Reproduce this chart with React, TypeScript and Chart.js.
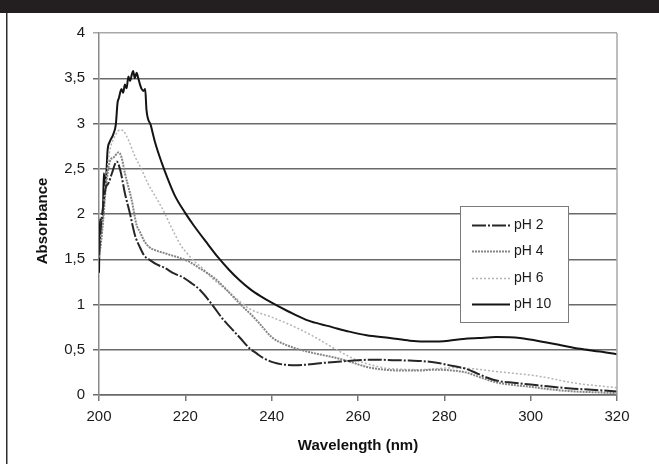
import { useEffect, useRef } from "react";
import { Chart, registerables } from "chart.js";

Chart.register(...registerables);

// ---- Data ----
const xTickValues = [200, 220, 240, 260, 280, 300, 320];
const yTickValues = [0, 0.5, 1, 1.5, 2, 2.5, 3, 3.5, 4];
const seriesNames = ["pH 2", "pH 4", "pH 6", "pH 10"];
const xTitle = "Wavelength (nm)";
const yTitle = "Absorbance";

const nmPH2 = [200, 200.5, 201, 201.5, 202.2, 203, 204.1, 204.9, 206, 207.2, 208.3, 209.5, 210.5, 211.8, 213.5, 215, 217.5, 219.5, 221, 223.4, 226.5, 228.5, 230, 232.7, 235, 236.5, 238, 240.4, 243, 246, 249, 252, 256, 260, 264, 268, 272, 276, 279, 282, 285, 288, 290, 292, 296, 300, 305, 310, 315, 320];
const absPH2 = [1.55, 1.9, 2.1, 2.28, 2.34, 2.45, 2.58, 2.49, 2.23, 2.0, 1.77, 1.63, 1.54, 1.49, 1.44, 1.41, 1.34, 1.3, 1.25, 1.16, 0.98, 0.85, 0.77, 0.63, 0.51, 0.46, 0.41, 0.36, 0.335, 0.33, 0.34, 0.355, 0.37, 0.385, 0.39, 0.385, 0.38, 0.37, 0.35, 0.32, 0.29, 0.23, 0.19, 0.16, 0.135, 0.115, 0.09, 0.07, 0.055, 0.04];

const nmPH4 = [200, 200.5, 201, 201.5, 202, 202.5, 203.5, 204.5, 205.2, 206, 206.8, 207.5, 208.7, 209.5, 210.5, 211.5, 213, 215, 217, 219, 221, 223, 225, 227, 229, 231, 233, 235, 237, 240, 243, 246.6, 250, 254, 258, 262, 266, 270, 274, 278, 282, 285, 288, 292, 296, 300, 305, 310, 315, 320];
const absPH4 = [1.52, 1.7, 1.95, 2.25, 2.45, 2.58, 2.63, 2.68, 2.63, 2.45, 2.3, 2.17, 1.88, 1.8, 1.7, 1.64, 1.6, 1.57, 1.54, 1.51, 1.47, 1.41, 1.35, 1.28, 1.19, 1.09, 0.99, 0.9, 0.8, 0.64, 0.56, 0.5, 0.46, 0.42, 0.37, 0.31, 0.28, 0.27, 0.27, 0.28, 0.27, 0.25, 0.2, 0.14, 0.11, 0.09, 0.06, 0.04, 0.03, 0.02];

const nmPH6 = [200, 200.5, 201, 201.8, 202.5, 203.7, 204.9, 205.6, 206.8, 208.3, 209.9, 211.4, 213, 215, 217, 219, 220.5, 222, 224, 226, 228, 230, 232.7, 235, 240, 245, 250, 255, 260, 266, 270, 274, 278, 282, 286.7, 292, 296, 300, 304, 308, 312, 316, 320];
const absPH6 = [1.57, 1.75, 2.05, 2.45, 2.7, 2.86, 2.93, 2.92, 2.82, 2.64, 2.49, 2.33, 2.2, 2.03, 1.83, 1.65, 1.56, 1.48, 1.4, 1.3, 1.22, 1.14, 1.03, 0.95, 0.86, 0.76, 0.64, 0.5, 0.38, 0.3, 0.285, 0.28, 0.29, 0.3, 0.29, 0.26, 0.24, 0.22, 0.19, 0.15, 0.12, 0.1, 0.08];

const nmPH10 = [200, 200.2, 200.9, 201.1, 201.5, 202, 202.5, 203.3, 203.9, 204.3, 204.6, 205.2, 205.6, 206, 206.4, 206.8, 207.2, 207.6, 207.9, 208.3, 208.7, 209.1, 209.5, 209.9, 210.3, 210.7, 211, 212, 213, 214.5, 216, 217.6, 220, 222, 225, 227.6, 230, 232.5, 235, 237.5, 240, 244, 248, 250, 254, 258, 262, 267.4, 272, 277, 281, 284.4, 288, 292, 297.5, 303.7, 307, 311.4, 316, 320];
const absPH10 = [1.35, 1.94, 1.94, 2.45, 2.31, 2.71, 2.8, 2.88, 2.99, 3.23, 3.28, 3.38, 3.34, 3.43, 3.39, 3.52, 3.47, 3.54, 3.58, 3.5, 3.56, 3.5, 3.43, 3.38, 3.36, 3.38, 3.15, 2.98, 2.79, 2.57, 2.38, 2.2, 2.01, 1.87, 1.68, 1.52, 1.39, 1.27, 1.17, 1.09, 1.02, 0.92, 0.83, 0.8, 0.75, 0.7, 0.66, 0.63, 0.6, 0.59, 0.6, 0.62, 0.63, 0.64, 0.63, 0.58, 0.55, 0.51, 0.48, 0.45];

// ---- Styles ----
const lineColors = ["#262626", "#858585", "#b4b4b4", "#141414"];
const lineWidths = [2, 2, 1.5, 2];
const lineDashes: number[][] = [[14, 2, 2, 2], [2, 1], [2, 2], []];
const FONT = "'Liberation Sans', Arial, sans-serif";

function toPoints(xs: number[], ys: number[]) {
  return xs.map((x, i) => ({ x, y: ys[i] }));
}

const framePlugin = {
  id: "frame",
  afterDraw(chart: any) {
    const { ctx, chartArea } = chart;
    ctx.save();
    // right border of plot area
    ctx.strokeStyle = "#a8a8a8";
    ctx.lineWidth = 1.5;
    ctx.beginPath();
    ctx.moveTo(chartArea.right, chartArea.top);
    ctx.lineTo(chartArea.right, chartArea.bottom);
    ctx.stroke();

    // y axis title
    ctx.save();
    ctx.translate(43, 221);
    ctx.rotate(-Math.PI / 2);
    ctx.font = "bold 15px " + FONT;
    ctx.fillStyle = "#111111";
    ctx.textAlign = "center";
    ctx.textBaseline = "middle";
    ctx.fillText(yTitle, 0, 0);
    ctx.restore();

    // legend box
    const lx = 460, ly = 206, lw = 108, lh = 116;
    ctx.fillStyle = "#ffffff";
    ctx.fillRect(lx, ly, lw, lh);
    ctx.strokeStyle = "#7a7a7a";
    ctx.lineWidth = 1;
    ctx.strokeRect(lx + 0.5, ly + 0.5, lw, lh);
    const rowYs = [224.5, 251, 277.5, 304];
    ctx.font = "14px " + FONT;
    ctx.textBaseline = "middle";
    ctx.textAlign = "left";
    seriesNames.forEach((name, i) => {
      const y = Math.round(rowYs[i]) + 0.5;
      ctx.save();
      ctx.strokeStyle = lineColors[i];
      ctx.lineWidth = lineWidths[i];
      ctx.setLineDash(lineDashes[i]);
      ctx.beginPath();
      ctx.moveTo(472, y);
      ctx.lineTo(510, y);
      ctx.stroke();
      ctx.restore();
      ctx.fillStyle = "#1a1a1a";
      ctx.fillText(name, 514, y);
    });

    // black band at top and thin left frame line
    ctx.fillStyle = "#231f20";
    ctx.fillRect(0, 0, chart.width, 13);
    ctx.fillStyle = "#2e2e2e";
    ctx.fillRect(6, 13, 1.5, chart.height - 13);
    ctx.restore();
  },
};

export default function App() {
  const canvasRef = useRef<HTMLCanvasElement>(null);

  useEffect(() => {
    document.body.style.margin = "0";
    const canvas = canvasRef.current;
    if (!canvas) return;
    const datasets = [
      { nm: nmPH2, abs: absPH2 },
      { nm: nmPH4, abs: absPH4 },
      { nm: nmPH6, abs: absPH6 },
      { nm: nmPH10, abs: absPH10 },
    ].map((s, i) => ({
      label: seriesNames[i],
      data: toPoints(s.nm, s.abs),
      borderColor: lineColors[i],
      borderWidth: lineWidths[i],
      borderDash: lineDashes[i],
      pointRadius: 0,
      fill: false,
      cubicInterpolationMode: "monotone" as const,
    }));

    const chart = new Chart(canvas, {
      type: "line",
      data: { datasets },
      options: {
        animation: false,
        responsive: false,
        devicePixelRatio: 1,
        layout: { padding: { left: 0, right: 42, top: 33, bottom: 0 } },
        plugins: { legend: { display: false }, tooltip: { enabled: false } },
        scales: {
          x: {
            type: "linear",
            min: 200,
            max: 320,
            afterBuildTicks: (scale: any) => {
              scale.ticks = xTickValues.map((v) => ({ value: v }));
            },
            afterFit: (scale: any) => {
              scale.height = 69;
            },
            ticks: {
              color: "#1a1a1a",
              font: { family: FONT, size: 15 },
              padding: 7,
              maxRotation: 0,
            },
            grid: {
              drawOnChartArea: false,
              drawTicks: true,
              tickLength: 6,
              color: "#777777",
              lineWidth: 1.5,
            },
            border: { color: "#6a6a6a", width: 1.5 },
            title: {
              display: true,
              text: xTitle,
              color: "#111111",
              font: { family: FONT, size: 15, weight: "bold" },
              padding: { top: 0, bottom: 9 },
            },
          },
          y: {
            type: "linear",
            min: 0,
            max: 4,
            afterBuildTicks: (scale: any) => {
              scale.ticks = yTickValues.map((v) => ({ value: v }));
            },
            afterFit: (scale: any) => {
              scale.width = 99;
            },
            ticks: {
              color: "#1a1a1a",
              font: { family: FONT, size: 15 },
              padding: 8,
              callback: (v: any) => String(v).replace(".", ","),
            },
            grid: {
              drawTicks: true,
              tickLength: 6,
              lineWidth: 1.5,
              color: (c: any) =>
                c.tick && c.tick.value === 4 ? "#a8a8a8" : "#6a6a6a",
            },
            border: { color: "#8a8a8a", width: 1.5 },
            title: { display: false },
          },
        },
      },
      plugins: [framePlugin],
    });
    return () => chart.destroy();
  }, []);

  return (
    <div style={{ width: 659, height: 464, position: "relative", background: "#ffffff" }}>
      <canvas ref={canvasRef} width={659} height={464} style={{ display: "block" }} />
    </div>
  );
}
